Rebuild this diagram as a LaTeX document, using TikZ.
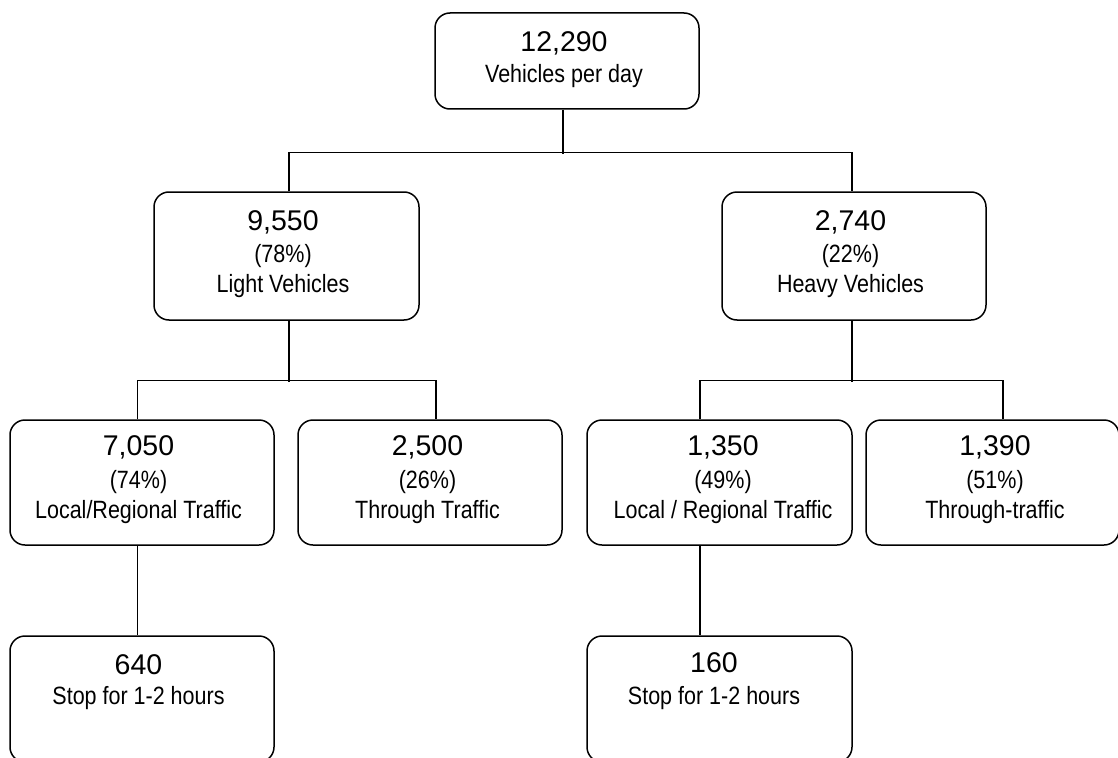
\documentclass[tikz,border=0pt]{standalone}
\usepackage{fontspec}
\setmainfont{Liberation Sans}
\newfontfamily\numfont{Liberation Sans}
\newfontfamily\labfont{Liberation Sans}[FakeStretch=0.86]
\begin{document}
\begin{tikzpicture}[x=1pt,y=-1pt,
  box/.style={draw, line width=1.5pt, rounded corners=15pt, inner sep=0pt},
  conn/.style={line width=1.4pt},
  num/.style={anchor=base, inner sep=0pt, font=\numfont\fontsize{28.5}{28}\selectfont},
  lab/.style={anchor=base, inner sep=0pt, font=\labfont\fontsize{25}{25}\selectfont}]
\useasboundingbox (0,0) rectangle (1118,757);
\clip (0,0) rectangle (1118,757);
\fill[white] (0,0) rectangle (1118,757);

% boxes
\node[box, minimum width=264pt, minimum height=96pt]  (top) at (567,61) {};
\node[box, minimum width=265pt, minimum height=128pt] (L)   at (286.5,256) {};
\node[box, minimum width=264pt, minimum height=128pt] (R)   at (854,256) {};
\node[box, minimum width=264pt, minimum height=125pt] (A)   at (142,482.5) {};
\node[box, minimum width=264pt, minimum height=125pt] (B)   at (430,482.5) {};
\node[box, minimum width=265pt, minimum height=125pt] (D)   at (719.5,482.5) {};
\node[box, minimum width=253pt, minimum height=125pt] (E)   at (992.5,482.5) {};
\node[box, minimum width=264pt, minimum height=126pt] (C)   at (142,699) {};
\node[box, minimum width=265pt, minimum height=126pt] (F)   at (719.5,699) {};

% texts
\node[num] (topN) at ([xshift=-3pt,yshift=-39pt]top.north) {12,290};
\node[lab] (topL) at ([xshift=-3pt,yshift=-70pt]top.north) {Vehicles per day};

\node[num] (LN) at ([xshift=-3.5pt,yshift=-39pt]L.north) {9,550};
\node[lab] (LP) at ([xshift=-3.5pt,yshift=-71pt]L.north) {(78\%)};
\node[lab] (LL) at ([xshift=-3.5pt,yshift=-101pt]L.north) {Light Vehicles};

\node[num] (RN) at ([xshift=-3.5pt,yshift=-39pt]R.north) {2,740};
\node[lab] (RP) at ([xshift=-3.5pt,yshift=-71pt]R.north) {(22\%)};
\node[lab] (RL) at ([xshift=-3.5pt,yshift=-101pt]R.north) {Heavy Vehicles};

\node[num] (AN) at ([xshift=-3.5pt,yshift=-36pt]A.north) {7,050};
\node[lab] (AP) at ([xshift=-3.5pt,yshift=-69pt]A.north) {(74\%)};
\node[lab] (AL) at ([xshift=-3.5pt,yshift=-99pt]A.north) {Local/Regional Traffic};

\node[num] (BN) at ([xshift=-2.5pt,yshift=-36pt]B.north) {2,500};
\node[lab] (BP) at ([xshift=-2.5pt,yshift=-69pt]B.north) {(26\%)};
\node[lab] (BL) at ([xshift=-2.5pt,yshift=-99pt]B.north) {Through Traffic};

\node[num] (DN) at ([xshift=3.5pt,yshift=-36pt]D.north) {1,350};
\node[lab] (DP) at ([xshift=3.5pt,yshift=-69pt]D.north) {(49\%)};
\node[lab] (DL) at ([xshift=3.5pt,yshift=-99pt]D.north) {Local / Regional Traffic};

\node[num] (EN) at ([xshift=2.5pt,yshift=-36pt]E.north) {1,390};
\node[lab] (EP) at ([xshift=2.5pt,yshift=-69pt]E.north) {(51\%)};
\node[lab] (EL) at ([xshift=2.5pt,yshift=-99pt]E.north) {Through-traffic};

\node[num] (CN) at ([xshift=-3.5pt,yshift=-39pt]C.north) {640};
\node[lab] (CL) at ([xshift=-3.5pt,yshift=-69pt]C.north) {Stop for 1-2 hours};

\node[num] (FN) at ([xshift=-5.5pt,yshift=-37pt]F.north) {160};
\node[lab] (FL) at ([xshift=-5.5pt,yshift=-69pt]F.north) {Stop for 1-2 hours};

% connectors
\draw[conn] ([xshift=-4pt]top.south) -- ++(0,44);
\draw[conn] ([xshift=2.5pt]L.north) -- ++(0,-39) -| ([xshift=-2pt]R.north);
\draw[conn] ([xshift=2.5pt]L.south) -- ++(0,61);
\draw[conn] ([xshift=-4.5pt]A.north) -- ++(0,-39) -| ([xshift=6pt]B.north);
\draw[conn] ([xshift=-2pt]R.south) -- ++(0,61);
\draw[conn] ([xshift=-19.5pt]D.north) -- ++(0,-39) -| ([xshift=10.5pt]E.north);
\draw[conn] ([xshift=-4.5pt]A.south) -- ([xshift=-4.5pt]C.north);
\draw[conn] ([xshift=-19.5pt]D.south) -- ([xshift=-19.5pt]F.north);
\end{tikzpicture}
\end{document}
